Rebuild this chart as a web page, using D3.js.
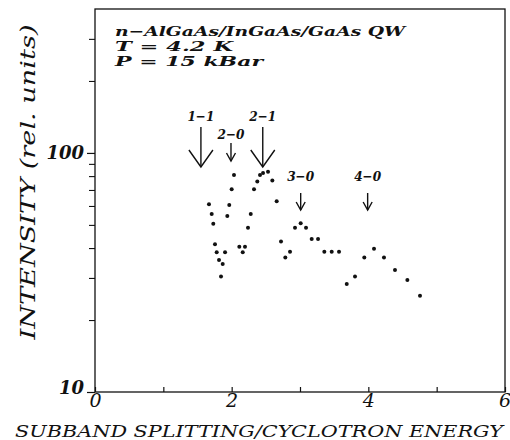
<!DOCTYPE html>
<html>
<head>
<meta charset="utf-8">
<script src="https://cdn.jsdelivr.net/npm/d3@7"></script>
<style>
  body { margin: 0; background: #fff; }
  text { font-family: "DejaVu Serif", "Liberation Serif", serif; font-style: italic; fill: #111; }
</style>
</head>
<body>
<div id="plot-container"></div>
<script>
// data
const splitting = [1.668, 1.708, 1.731, 1.756, 1.781, 1.815, 1.844, 1.869, 1.903, 1.936, 1.965, 2.0, 2.034,
  2.112, 2.162, 2.195, 2.239, 2.279, 2.327, 2.375, 2.415, 2.459, 2.532, 2.595, 2.659, 2.722, 2.785, 2.854,
  2.927, 3.010, 3.088, 3.171, 3.264, 3.356, 3.464, 3.571, 3.684, 3.805, 3.941, 4.083, 4.229, 4.390, 4.571, 4.756];
const intensity = [61.0, 55.6, 50.5, 41.5, 38.4, 35.7, 30.4, 34.3, 38.4, 54.5, 60.6, 70.5, 80.9,
  40.5, 38.4, 40.5, 48.7, 55.6, 70.5, 75.9, 80.9, 82.5, 83.5, 76.6, 62.8, 42.6, 36.5, 38.6,
  48.7, 50.8, 48.7, 43.7, 43.7, 38.6, 38.6, 38.6, 28.3, 30.4, 36.5, 39.7, 36.5, 32.4, 29.4, 25.3];

// transition markers
const markLabels = ["1−1", "2−0", "2−1", "3−0", "4−0"];
const markX = [1.55, 1.99, 2.455, 3.01, 3.99];
const markBig = [true, false, true, false, false];

const xTicks = [0, 1, 2, 3, 4, 5, 6];
const yMajor = [10, 100];
const yMinor = [20, 30, 40, 50, 60, 70, 80, 90, 200, 300];
const header = ["n−AlGaAs/InGaAs/GaAs QW", "T = 4.2 K", "P = 15 kBar"];

const width = 510, height = 440;
const margin = { top: 9, right: 5, bottom: 48, left: 95 };

const svg = d3.select("#plot-container").append("svg")
    .attr("width", width).attr("height", height);

const x = d3.scaleLinear().domain([0, 6]).range([margin.left, width - margin.right]);
const y = d3.scaleLog().domain([10, 400]).range([height - margin.bottom, margin.top]);

// frame
svg.append("rect")
    .attr("x", x(0)).attr("y", y(400))
    .attr("width", x(6) - x(0)).attr("height", y(10) - y(400))
    .attr("fill", "none").attr("stroke", "#111").attr("stroke-width", 1.3);

// x axis, ticks pointing inward
const xAxis = svg.append("g")
    .attr("transform", `translate(0,${y(10)})`)
    .call(d3.axisBottom(x).tickValues(xTicks).tickSizeInner(-5).tickSizeOuter(0).tickPadding(1)
        .tickFormat(d => d % 2 === 0 ? d : ""));
xAxis.select(".domain").remove();
xAxis.selectAll("line").attr("stroke", "#111").attr("stroke-width", 1.2);
xAxis.selectAll("text").attr("font-size", 19).attr("font-family", null);
// keep the last label inside the page
xAxis.selectAll(".tick").filter(d => d === 6).select("text").attr("text-anchor", "end").attr("dx", "0.3em");

// y axis, major and minor ticks outward
const yAxis = svg.append("g")
    .attr("transform", `translate(${x(0)},0)`)
    .call(d3.axisLeft(y).tickValues(yMajor).tickSize(8).tickPadding(3).tickFormat(d3.format("d")));
yAxis.select(".domain").remove();
yAxis.selectAll("line").attr("stroke", "#111").attr("stroke-width", 1.2);
yAxis.selectAll("text").attr("font-size", 18).attr("font-weight", "bold").attr("font-family", null);
yAxis.selectAll(".tick").filter(d => d === 10).select("text").attr("dy", "0.1em");

const yAxisMinor = svg.append("g")
    .attr("transform", `translate(${x(0)},0)`)
    .call(d3.axisLeft(y).tickValues(yMinor).tickSize(6).tickFormat(""));
yAxisMinor.select(".domain").remove();
yAxisMinor.selectAll("line").attr("stroke", "#111").attr("stroke-width", 1.1);

// axis titles
svg.append("text")
    .attr("x", 15).attr("y", 437)
    .attr("font-size", 17)
    .attr("textLength", 488).attr("lengthAdjust", "spacingAndGlyphs")
    .text("SUBBAND SPLITTING/CYCLOTRON ENERGY");

svg.append("text")
    .attr("transform", "translate(35,182) rotate(-90)")
    .attr("text-anchor", "middle")
    .attr("font-size", 21)
    .attr("textLength", 315).attr("lengthAdjust", "spacingAndGlyphs")
    .text("INTENSITY (rel. units)");

// header
const headerLen = [290, 118, 148];
header.forEach((t, i) => {
    svg.append("text")
        .attr("x", 115).attr("y", 36 + i * 15)
        .attr("font-size", 13.5)
        .attr("font-weight", "bold")
        .attr("textLength", headerLen[i]).attr("lengthAdjust", "spacingAndGlyphs")
        .text(t);
});

// transition arrows
const marks = svg.append("g").attr("class", "marks");
markLabels.forEach((lab, i) => {
    const cx = x(markX[i]);
    let top, bot, hw, hh, ty;
    if (markBig[i]) {
        top = 127; bot = 167; hw = 12; hh = 17; ty = 121;
    } else if (markX[i] < 2.5) {
        top = 143; bot = 161; hw = 4.5; hh = 8; ty = 139;
    } else {
        top = 193; bot = 210; hw = 4.5; hh = 8; ty = 181;
    }
    marks.append("line")
        .attr("x1", cx).attr("x2", cx).attr("y1", top).attr("y2", bot)
        .attr("stroke", "#111").attr("stroke-width", 1.4);
    marks.append("path")
        .attr("d", `M${cx - hw},${bot - hh}L${cx},${bot}L${cx + hw},${bot - hh}`)
        .attr("fill", "none").attr("stroke", "#111").attr("stroke-width", 1.4);
    marks.append("text")
        .attr("x", cx).attr("y", ty)
        .attr("text-anchor", "middle")
        .attr("font-size", 13)
        .attr("font-weight", "bold")
        .attr("textLength", 27).attr("lengthAdjust", "spacingAndGlyphs")
        .text(lab);
});

// data points
svg.append("g").attr("class", "points")
    .selectAll("circle")
    .data(d3.zip(splitting, intensity))
    .join("circle")
    .attr("cx", d => x(d[0]))
    .attr("cy", d => y(d[1]))
    .attr("r", 2)
    .attr("fill", "#111");
</script>
</body>
</html>
